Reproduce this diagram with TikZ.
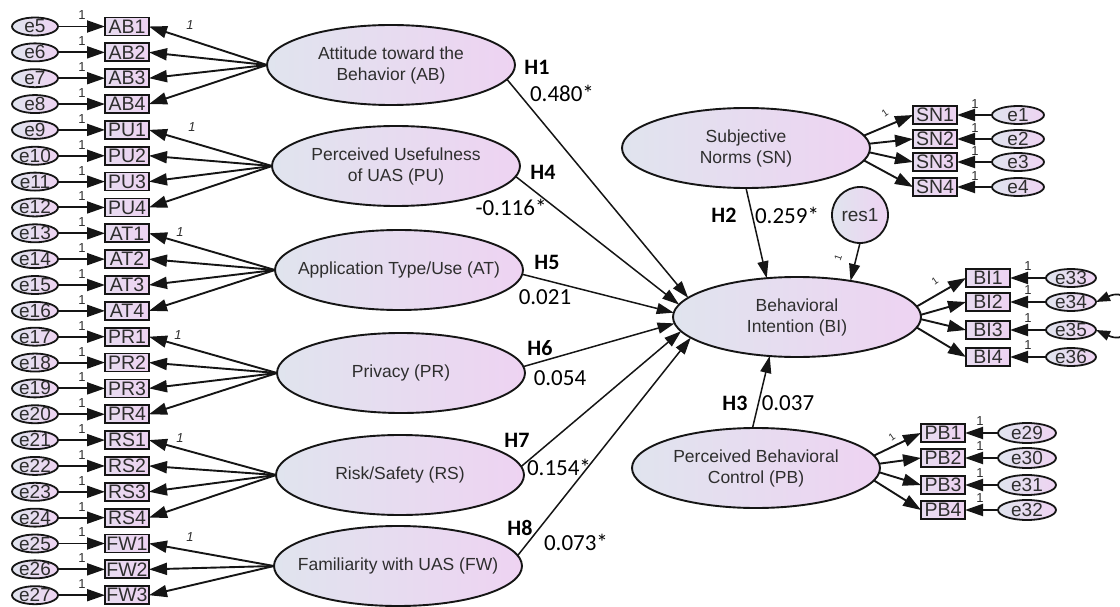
\documentclass[tikz,border=0pt]{standalone}
\usepackage{fontspec}
\setmainfont{Liberation Sans}
\newfontfamily\calf{Carlito}
\usetikzlibrary{shapes.geometric,arrows.meta}
\definecolor{gL}{HTML}{E0E4EE}
\definecolor{gR}{HTML}{EED3F2}
\definecolor{txt}{HTML}{2E2E2E}
\definecolor{ln}{HTML}{151515}
\tikzset{
 lattxt/.style={text=txt, align=center, inner sep=0pt, font=\fontsize{17.5}{21}\selectfont},
 lat/.style={ellipse, draw=ln, line width=1.9pt, minimum width=248pt, minimum height=80pt,
   inner sep=0pt, outer sep=0pt, left color=gL, right color=gR, label={[lattxt]center:#1}},
 errtxt/.style={text=txt, inner sep=0pt, font=\fontsize{19}{19}\selectfont},
 err/.style={ellipse, draw=ln, line width=1.8pt, minimum width=46pt, minimum height=18pt,
   inner sep=0pt, outer sep=0pt, left color=gL, right color=gR, label={[errtxt]center:#1}},
 ind/.style={rectangle, draw=ln, line width=1.8pt, minimum width=44pt, minimum height=18pt,
   inner sep=0pt, outer sep=0pt, left color=gL!50!gR, right color=gR, text=txt,
   font=\fontsize{19.5}{19.5}\selectfont},
 arr/.style={draw=ln, line width=1.9pt, -{Triangle[length=18pt,width=12pt]}},
 parr/.style={draw=ln, line width=1.5pt, -{Triangle[length=17pt,width=11pt]}},
 one/.style={font=\fontsize{13}{13}\selectfont, text=txt, inner sep=0pt},
 onei/.style={font=\itshape\fontsize{13}{13}\selectfont, text=txt, inner sep=0pt},
 hl/.style={font=\calf\bfseries\fontsize{22}{22}\selectfont, inner sep=0pt},
 cf/.style={font=\calf\fontsize{23}{23}\selectfont, inner sep=0pt},
}
\begin{document}
\begin{tikzpicture}[x=1pt,y=-1pt]
\useasboundingbox (0,0) rectangle (1120,607);

% ---------- left latent variables ----------
\node[lat={Attitude toward the\\Behavior (AB)}] (AB) at (391,65) {};
\node[lat={Perceived Usefulness\\of UAS (PU)}] (PU) at (396,166) {};
\node[lat={Application Type/Use (AT)}] (AT) at (399,270) {};
\node[lat={Privacy (PR)}] (PR) at (401,373) {};
\node[lat={Risk/Safety (RS)}] (RS) at (400,475) {};
\node[lat={Familiarity with UAS (FW)}] (FW) at (398,566) {};

% ---------- left indicators and errors ----------
\foreach \b [count=\k from 0] in {AB1,AB2,AB3,AB4,PU1,PU2,PU3,PU4,AT1,AT2,AT3,AT4,PR1,PR2,PR3,PR4,RS1,RS2,RS3,RS4,FW1,FW2,FW3}{
  \pgfmathsetmacro\yy{26.5+25.85*\k}
  \pgfmathtruncatemacro\en{\k+5}
  \node[err={e\en}] (e\en) at (35,\yy) {};
  \node[ind] (\b) at (127,\yy) {\b};
  \draw[arr] (e\en.east) -- (\b.west);
  \node[one] at (82,\yy-11) {1};
}
\foreach \L/\n in {AB/4,PU/4,AT/4,PR/4,RS/4,FW/3}{
  \foreach \j in {1,...,\n}{
    \draw[arr] (\L.west) -- (\L\j.east);
  }
}
\node[onei] at (190,25) {1};
\node[onei] at (192,127) {1};
\node[onei] at (180,232) {1};
\node[onei] at (178,335) {1};
\node[onei] at (180,438) {1};
\node[onei] at (190,537) {1};

% ---------- right latent variables ----------
\node[lat={Subjective\\Norms (SN)}] (SN) at (746,148) {};
\node[lat={Behavioral\\Intention (BI)}] (BI) at (797,317) {};
\node[lat={Perceived Behavioral\\Control (PB)}] (PB) at (756,468) {};
\node[circle, draw=ln, line width=1.8pt, minimum size=56pt, inner sep=0pt, outer sep=0pt,
  left color=gL, right color=gR, text=txt, font=\fontsize{19}{19}\selectfont] (res1) at (860,215) {res1};

% SN indicators
\foreach \j/\y/\a in {1/115/6,2/139/2,3/162/-2,4/187/-6}{
  \node[ind] (SN\j) at (935,\y) {SN\j};
  \node[err={e\j}, minimum width=52pt] (e\j) at (1018,\y) {};
  \draw[arr] (e\j.west) -- (SN\j.east);
  \draw[arr] (SN.\a) -- (SN\j.west);
  \node[one] at (975,\y-11) {1};
}
% BI indicators
\foreach \j/\y/\e/\a in {1/278/33/5,2/302/34/1.5,3/330/35/-1.5,4/357/36/-5}{
  \node[ind] (BI\j) at (988,\y) {BI\j};
  \node[err={e\e}, minimum width=50pt] (e\e) at (1071,\y) {};
  \draw[arr] (e\e.west) -- (BI\j.east);
  \draw[arr] (BI.\a) -- (BI\j.west);
  \node[one] at (1028,\y-12) {1};
}
% PB indicators
\foreach \j/\y/\e/\a in {1/433/29/6,2/458/30/2,3/485/31/-2,4/510/32/-6}{
  \node[ind] (PB\j) at (943,\y) {PB\j};
  \node[err={e\e}, minimum width=58pt, minimum height=20pt] (e\e) at (1027,\y) {};
  \draw[arr] (e\e.west) -- (PB\j.east);
  \draw[arr] (PB.\a) -- (PB\j.west);
  \node[one] at (980,\y-12) {1};
}
\node[one, font=\fontsize{10}{10}\selectfont, rotate=35] at (885,113) {1};
\node[one, font=\fontsize{10}{10}\selectfont, rotate=35] at (935,281) {1};
\node[one, font=\fontsize{10}{10}\selectfont, rotate=35] at (892,437) {1};
\node[one, font=\fontsize{10}{10}\selectfont, rotate=70] at (838,258) {1};

% correlated errors
\draw[draw=ln, line width=1.7pt, {Triangle[length=14pt,width=10pt]}-{Triangle[length=14pt,width=10pt]}]
  (e34.east) .. controls (1140,282) and (1140,350) .. (e35.east);

% ---------- structural paths ----------
\draw[parr] (AB.-7) -- (BI.170);
\draw[parr] (PU.-5) -- (BI.174);
\draw[parr] (AT.-2) -- (BI.178);
\draw[parr] (PR.3) -- (BI.183);
\draw[parr] (RS.4) -- (BI.187);
\draw[parr] (FW.5) -- (BI.191);
\draw[parr] (SN.south) -- (BI.128);
\draw[parr] (res1.south) -- (BI.34);
\draw[parr] (PB.95) -- (BI.235);

% ---------- path labels ----------
\node[hl] at (537,67) {H1};  \node[cf] at (562,93) {0.480*};
\node[hl] at (543,172) {H4}; \node[cf] at (511,207) {-0.116*};
\node[hl] at (547,262) {H5}; \node[cf] at (545,297) {0.021};
\node[hl] at (540,348) {H6}; \node[cf] at (560,378) {0.054};
\node[hl] at (517,440) {H7}; \node[cf] at (559,467) {0.154*};
\node[hl] at (520,528) {H8}; \node[cf] at (576,542) {0.073*};
\node[hl] at (724,215) {H2}; \node[cf] at (787,215) {0.259*};
\node[hl] at (735,403) {H3}; \node[cf] at (788,403) {0.037};
\end{tikzpicture}
\end{document}
